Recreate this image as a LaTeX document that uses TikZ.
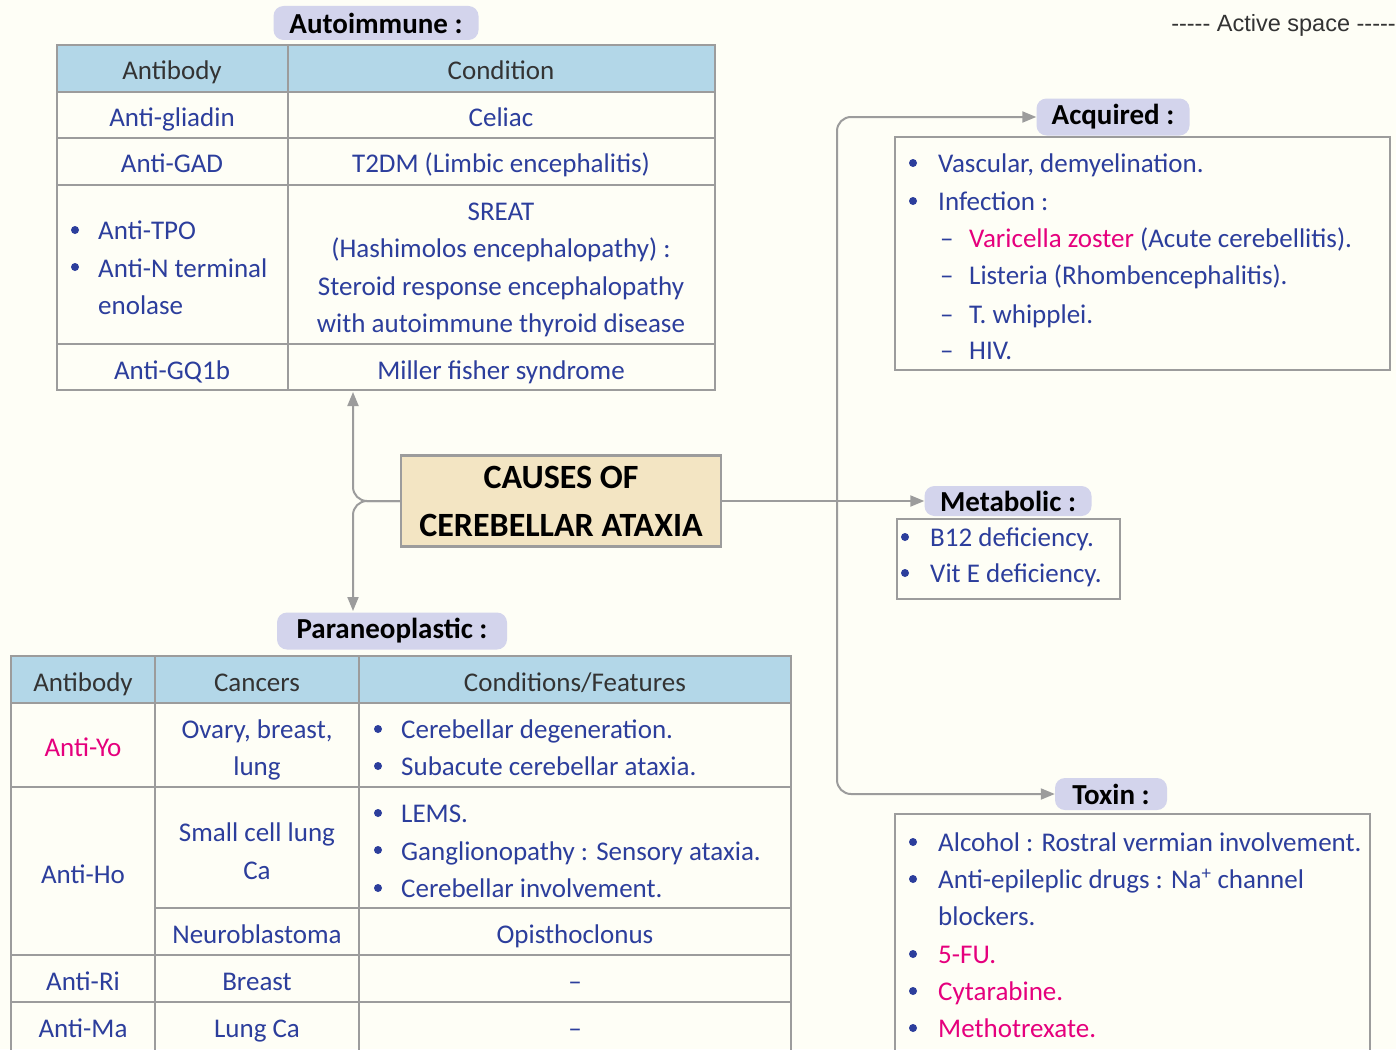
\documentclass[tikz,border=0pt]{standalone}
\usepackage{fontspec}
\setmainfont{Carlito}
\newfontfamily\notefont{Liberation Sans}
\usetikzlibrary{arrows.meta}
\definecolor{paper}{HTML}{FEFEF6}
\definecolor{inkblue}{HTML}{2C3E9C}
\definecolor{inkpink}{HTML}{E5007D}
\definecolor{headgray}{HTML}{333333}
\definecolor{headblue}{HTML}{B3D7E8}
\definecolor{tagfill}{HTML}{D3D4EC}
\definecolor{hubfill}{HTML}{F3E5C3}
\definecolor{linegray}{HTML}{9C9C9C}
\tikzset{
  txt/.style={text=inkblue, inner sep=0pt, anchor=mid, yshift=-5pt},
  lft/.style={txt, anchor=mid west},
  pk/.style={text=inkpink},
  head/.style={text=headgray, inner sep=0pt, anchor=mid, yshift=-5pt},
  dot/.style={circle, fill=inkblue, minimum size=8pt, inner sep=0pt},
  tag/.style={fill=tagfill, rounded corners=10pt, inner sep=0pt, text=black, font=\fontsize{29}{32}\selectfont\bfseries},
  hubbox/.style={draw=linegray, line width=2.5pt, fill=hubfill, align=center, minimum width=320pt, minimum height=91pt, font=\fontsize{34}{48}\selectfont\bfseries},
  frame/.style={draw=linegray, line width=2pt},
  conn/.style={draw=linegray, line width=2pt, rounded corners=14pt, -{Triangle[length=14pt,width=11pt]}}
}
\begin{document}
\begin{tikzpicture}[x=1pt,y=-1pt,font=\fontsize{27}{30}\selectfont]
        \fill[paper] (0,0) rectangle (1396,1049);
        \useasboundingbox (0,0) rectangle (1396,1049);
        \node[anchor=mid east, inner sep=0pt, text=headgray, font=\notefont\fontsize{23.5}{26}\selectfont] (note) at (1396,29) {----- Active space -----};
        \node[hubbox] (hub) at (561,501) {CAUSES OF\\CEREBELLAR ATAXIA};
        \node[tag, minimum width=205pt, minimum height=34pt] (auto) at (376,23) {Autoimmune :};
        \node[tag, minimum width=230pt, minimum height=37pt] (para) at (392,631) {Paraneoplastic :};
        \node[tag, minimum width=153pt, minimum height=37pt] (acq) at (1113,117) {Acquired :};
        \node[tag, minimum width=167pt, minimum height=30pt] (meta) at (1008,501) {Metabolic :};
        \node[tag, minimum width=112pt, minimum height=32pt] (tox) at (1111,794) {Toxin :};
        \coordinate (up) at (353,392);
        \coordinate (down) at (353,611);
        \coordinate (split) at (837,501);
        \draw[conn] (hub.west) -| (up);
        \draw[conn] (hub.west) -| (down);
        \draw[conn] (hub.east) -- (meta.west);
        \draw[conn] (split) |- (acq.west);
        \draw[conn] (split) |- (tox.west);
        \fill[headblue] (57,45) rectangle (715,92);
        \draw[frame] (57,45) rectangle (715,390);
        \draw[frame] (288,45) -- (288,390);
        \draw[frame] (57,92) -- (715,92);
        \draw[frame] (57,138) -- (715,138);
        \draw[frame] (57,185) -- (715,185);
        \draw[frame] (57,344) -- (715,344);
        \node[head] (ah1) at (172,72) {Antibody};
        \node[head] (ah2) at (501,72) {Condition};
        \node[txt] (a1) at (172,119) {Anti-gliadin};
        \node[txt] (c1) at (501,119) {Celiac};
        \node[txt] (a2) at (172,165) {Anti-GAD};
        \node[txt] (c2) at (501,165) {T2DM (Limbic encephalitis)};
        \node[dot] (ad1) at (75,230) {};
        \node[dot] (ad2) at (75,267) {};
        \node[lft] (a3) at (98,232) {Anti-TPO};
        \node[lft] (a4) at (98,270) {Anti-N terminal};
        \node[lft] (a5) at (98,307) {enolase};
        \node[txt] (c3) at (501,213) {SREAT};
        \node[txt] (c4) at (501,250) {(Hashimolos encephalopathy) :};
        \node[txt] (c5) at (501,288) {Steroid response encephalopathy};
        \node[txt] (c6) at (501,325) {with autoimmune thyroid disease};
        \node[txt] (a6) at (172,372) {Anti-GQ1b};
        \node[txt] (c7) at (501,372) {Miller fisher syndrome};
        \fill[headblue] (11,656) rectangle (791,703);
        \draw[frame] (11,1055) -- (11,656) -- (791,656) -- (791,1055);
        \draw[frame] (155,656) -- (155,1055);
        \draw[frame] (359,656) -- (359,1055);
        \draw[frame] (11,703) -- (791,703);
        \draw[frame] (11,787) -- (791,787);
        \draw[frame] (155,908) -- (791,908);
        \draw[frame] (11,955) -- (791,955);
        \draw[frame] (11,1002) -- (791,1002);
        \node[head] (ph1) at (83,684) {Antibody};
        \node[head] (ph2) at (257,684) {Cancers};
        \node[head] (ph3) at (575,684) {Conditions/Features};
        \node[txt, pk] (p1) at (83,749) {Anti-Yo};
        \node[txt] (k1) at (257,731) {Ovary, breast,};
        \node[txt] (k2) at (257,768) {lung};
        \node[dot] (pd1) at (378,729) {};
        \node[dot] (pd2) at (378,766) {};
        \node[lft] (f1) at (401,731) {Cerebellar degeneration.};
        \node[lft] (f2) at (401,768) {Subacute cerebellar ataxia.};
        \node[txt] (p2) at (83,876) {Anti-Ho};
        \node[txt] (k3) at (257,834) {Small cell lung};
        \node[txt] (k4) at (257,872) {Ca};
        \node[dot] (pd3) at (378,813) {};
        \node[dot] (pd4) at (378,850) {};
        \node[dot] (pd5) at (378,888) {};
        \node[lft] (f3) at (401,815) {LEMS.};
        \node[lft] (f4) at (401,853) {Ganglionopathy : Sensory ataxia.};
        \node[lft] (f5) at (401,890) {Cerebellar involvement.};
        \node[txt] (k5) at (257,936) {Neuroblastoma};
        \node[txt] (f6) at (575,936) {Opisthoclonus};
        \node[txt] (p3) at (83,983) {Anti-Ri};
        \node[txt] (k6) at (257,983) {Breast};
        \node[txt] (f7) at (575,983) {--};
        \node[txt] (p4) at (83,1030) {Anti-Ma};
        \node[txt] (k7) at (257,1030) {Lung Ca};
        \node[txt] (f8) at (575,1030) {--};
        \draw[frame] (895,137) rectangle (1390,370);
        \node[dot] (qd1) at (913,163) {};
        \node[dot] (qd2) at (913,201) {};
        \node[lft] (q1) at (938,165) {Vascular, demyelination.};
        \node[lft] (q2) at (938,203) {Infection :};
        \node[lft] (qs1) at (940,240) {--};
        \node[lft] (qs2) at (940,277) {--};
        \node[lft] (qs3) at (940,316) {--};
        \node[lft] (qs4) at (940,352) {--};
        \node[lft] (q3) at (969,240) {\textcolor{inkpink}{Varicella zoster} (Acute cerebellitis).};
        \node[lft] (q4) at (969,277) {Listeria (Rhombencephalitis).};
        \node[lft] (q5) at (969,316) {T. whipplei.};
        \node[lft] (q6) at (969,352) {HIV.};
        \draw[frame] (897,519) rectangle (1120,599);
        \node[dot] (md1) at (905,537) {};
        \node[dot] (md2) at (905,573) {};
        \node[lft] (m1) at (930,539) {B12 deficiency.};
        \node[lft] (m2) at (930,575) {Vit E deficiency.};
        \draw[frame] (895,1055) -- (895,814) -- (1370,814) -- (1370,1055);
        \node[dot] (td1) at (913,842) {};
        \node[dot] (td2) at (913,879) {};
        \node[dot] (td3) at (913,954) {};
        \node[dot] (td4) at (913,991) {};
        \node[dot] (td5) at (913,1028) {};
        \node[lft] (t1) at (938,844) {Alcohol : Rostral vermian involvement.};
        \node[lft] (t2) at (938,881) {Anti-epileplic drugs : Na\textsuperscript{+} channel};
        \node[lft] (t3) at (938,918) {blockers.};
        \node[lft, pk] (t4) at (938,956) {5-FU.};
        \node[lft, pk] (t5) at (938,993) {Cytarabine.};
        \node[lft, pk] (t6) at (938,1030) {Methotrexate.};
\end{tikzpicture}
\end{document}
